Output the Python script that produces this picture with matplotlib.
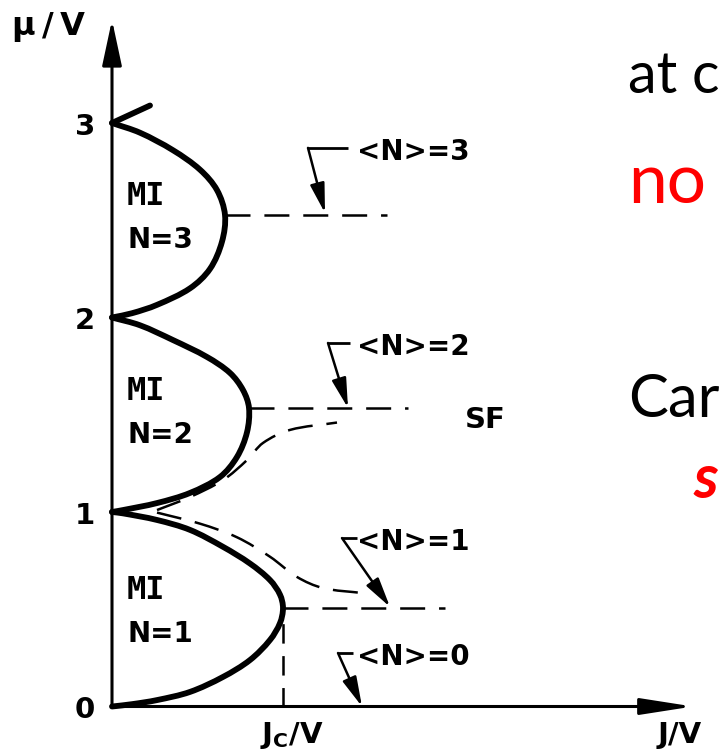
import matplotlib
matplotlib.use("Agg")
import matplotlib.pyplot as plt
import numpy as np
from matplotlib.path import Path
from matplotlib.patches import PathPatch

plt.rcParams["lines.scale_dashes"] = False

# ---- phase-boundary data (J/V, mu/V) ----
lobe1_J = [0, 0.020, 0.045, 0.078, 0.111, 0.138, 0.158, 0.168, 0.171, 0.168, 0.158, 0.138, 0.111, 0.078, 0.045, 0.011, 0]
lobe1_mu = [0, 0.012, 0.033, 0.075, 0.152, 0.239, 0.342, 0.429, 0.506, 0.575, 0.650, 0.735, 0.821, 0.908, 0.959, 0.993, 1.0]

lobe2_J = [0, 0.011, 0.045, 0.078, 0.108, 0.125, 0.135, 0.137, 0.131, 0.118, 0.095, 0.061, 0.028, 0]
lobe2_mu = [1.0, 1.010, 1.046, 1.098, 1.180, 1.283, 1.410, 1.535, 1.627, 1.715, 1.797, 1.884, 1.960, 2.0]

lobe3_J = [0, 0.020, 0.045, 0.078, 0.098, 0.110, 0.113, 0.105, 0.088, 0.061, 0.028, 0]
lobe3_mu = [2.0, 2.022, 2.065, 2.150, 2.250, 2.390, 2.527, 2.655, 2.760, 2.860, 2.950, 3.0]

lobe4_J = [0, 0.038]
lobe4_mu = [3.0, 3.09]

# constant-density contours in the superfluid
n2_J = [0.045, 0.078, 0.111, 0.135, 0.151, 0.178, 0.225]
n2_mu = [1.010, 1.077, 1.164, 1.267, 1.355, 1.422, 1.460]
n1_J = [0.045, 0.088, 0.125, 0.158, 0.185, 0.211, 0.251]
n1_mu = [0.997, 0.940, 0.870, 0.770, 0.666, 0.609, 0.583]

# integer-filling lines leaving the lobe tips
tip_J = [0.171, 0.137, 0.113]
tip_mu = [0.506, 1.535, 2.527]
tip_end_J = [0.333, 0.296, 0.275]
Jc = tip_J[0]

# <N> labels: text anchor, leader corner, arrow target
lab_text = ["<N>=0", "<N>=1", "<N>=2", "<N>=3"]
lab_mu = [0.275, 0.866, 1.869, 2.872]
lab_start_J = [0.241, 0.245, 0.238, 0.236]
lab_corner_J = [0.226, 0.230, 0.216, 0.196]
arrow_J = [0.250, 0.278, 0.236, 0.213]
arrow_mu = [0.0, 0.512, 1.535, 2.537]

mi_labels = ["N=1", "N=2", "N=3"]
mi_mu = [0.332, 1.355, 2.357]
yticks = [0, 1, 2, 3]

# ---- figure with a data frame covering the whole canvas ----
W, H = 721, 752
X0, Y0 = 112, 706.5          # pixel position of the origin
SX, SY = 1000.0, 194.5       # pixels per unit of J/V and mu/V
fig = plt.figure(figsize=(W / 100, H / 100), dpi=100)
ax = fig.add_axes([0, 0, 1, 1])
ax.set_xlim(-X0 / SX, (W - X0) / SX)
ax.set_ylim(-(H - Y0) / SY, Y0 / SY)
ax.axis("off")

SANS = "DejaVu Sans"
MONO = "DejaVu Sans Mono"
k = "black"


def smooth_curve(xs, ys, **kw):
    """Smooth cubic-Bezier curve through the points, tangents weighted by chord length."""
    P = np.column_stack([xs, ys]).astype(float)
    scale = np.array([SX, SY])
    n = len(P)
    verts = [P[0]]
    codes = [Path.MOVETO]
    for i in range(n - 1):
        p0 = P[i - 1] if i > 0 else P[i]
        p1, p2 = P[i], P[i + 1]
        p3 = P[i + 2] if i + 2 < n else P[i + 1]
        d01 = np.linalg.norm((p1 - p0) * scale)
        d12 = np.linalg.norm((p2 - p1) * scale)
        d23 = np.linalg.norm((p3 - p2) * scale)
        c1 = p1 + (p2 - p0) * d12 / (3.0 * (d01 + d12))
        c2 = p2 - (p3 - p1) * d12 / (3.0 * (d12 + d23))
        verts += [c1, c2, p2]
        codes += [Path.CURVE4] * 3
    ax.add_patch(PathPatch(Path(verts, codes), fill=False, **kw))


# axes with arrowheads
ax.annotate("", xy=(0, 3.53), xytext=(0, 0),
            arrowprops=dict(arrowstyle="-|>,head_length=1.4,head_width=0.3",
                            lw=2.2, color=k, shrinkA=0, shrinkB=0, mutation_scale=20))
ax.annotate("", xy=(0.581, 0), xytext=(0, 0),
            arrowprops=dict(arrowstyle="-|>,head_length=1.6,head_width=0.25",
                            lw=2.2, color=k, shrinkA=0, shrinkB=0, mutation_scale=20))

# Mott lobes
for J, mu in [(lobe1_J, lobe1_mu), (lobe2_J, lobe2_mu), (lobe3_J, lobe3_mu)]:
    smooth_curve(J, mu, edgecolor=k, lw=4.2, capstyle="round", joinstyle="round")
ax.plot(lobe4_J, lobe4_mu, color=k, lw=4.2, solid_capstyle="round")

dash = (18, 10)
for J0, m, J1 in zip(tip_J, tip_mu, tip_end_J):
    ax.plot([J0, J1], [m, m], color=k, lw=1.8, dashes=dash)
ax.plot([Jc, Jc], [0, tip_mu[0]], color=k, lw=1.8, dashes=(14, 9))
smooth_curve(n2_J, n2_mu, edgecolor=k, lw=1.8, linestyle=(0, dash))
smooth_curve(n1_J, n1_mu, edgecolor=k, lw=1.8, linestyle=(0, dash))

# labelled leaders
for t, m, js, jc, ja, ma in zip(lab_text, lab_mu, lab_start_J, lab_corner_J, arrow_J, arrow_mu):
    ax.plot([js, jc], [m, m], color=k, lw=2.0, solid_capstyle="butt")
    ax.annotate("", xy=(ja, ma), xytext=(jc, m),
                arrowprops=dict(arrowstyle="-|>,head_length=0.9,head_width=0.22",
                                lw=1.8, color=k, shrinkA=0, shrinkB=0, mutation_scale=20))
    ax.text(0.245, m - 0.06, t, family=SANS, fontweight="bold", fontsize=20,
            va="baseline", ha="left")

for lab, m in zip(mi_labels, mi_mu):
    ax.text(0.015, m + 0.222, "MI", family=MONO, fontweight="bold", fontsize=23, va="baseline")
    ax.text(0.016, m, lab, family=SANS, fontweight="bold", fontsize=20, va="baseline")

ax.text(0.353, 1.432, "SF", family=SANS, fontweight="bold", fontsize=21, va="baseline")

for v in yticks:
    ax.text(-0.027, v - 0.06, str(v), family=SANS, fontweight="bold", fontsize=21,
            va="baseline", ha="center")

ax.text(-0.100, 3.45, "μ\u2009/\u2009V", family=SANS, fontweight="bold", fontsize=23, va="baseline")
ax.text(0.148, -0.188, r"J$_\mathregular{C}$/V", family=SANS, fontweight="bold",
        fontsize=21, va="baseline")
ax.text(0.546, -0.188, "J/V", family=SANS, fontweight="bold", fontsize=21, va="baseline")

# slide text at the right edge
slide = [
    fig.text(628 / W, 1 - 93 / H, "at c", family="Lato", fontsize=46, va="baseline", color="black"),
    fig.text(628 / W, 1 - 203 / H, "no", family="Lato", fontsize=50, va="baseline", color="#ff0000"),
    fig.text(628 / W, 1 - 417 / H, "Car", family="Lato", fontsize=48, va="baseline", color="black"),
    fig.text(694 / W, 1 - 498 / H, "s", family="Lato", fontsize=44, va="baseline",
             color="#ff0000", fontweight="bold", style="italic"),
]
renderer = fig.canvas.get_renderer()
for t in slide:
    while t.get_window_extent(renderer).x1 > W - 1.5:
        t.set_fontsize(t.get_fontsize() - 0.5)

fig.savefig("out.png", dpi=100)
